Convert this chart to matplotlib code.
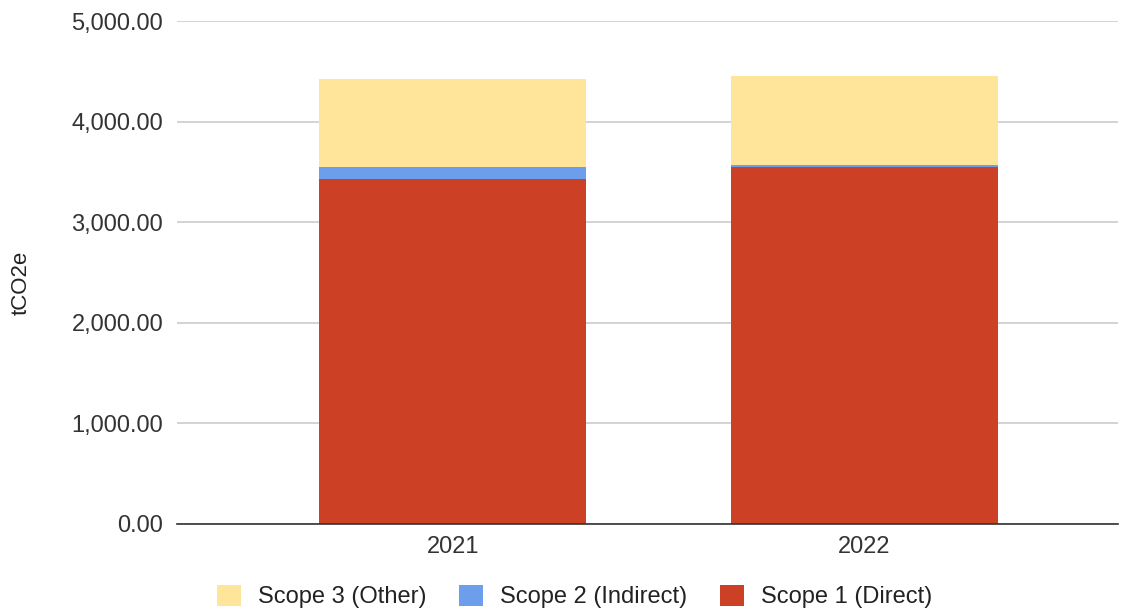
import matplotlib.pyplot as plt
from matplotlib.ticker import FuncFormatter

# Emissions by scope (tCO2e)
years = ['2021', '2022']
scope1 = [3430, 3550]
scope2 = [120, 20]
scope3 = [872, 880]

plt.rcParams['font.family'] = ['Liberation Sans', 'DejaVu Sans']

fig = plt.figure(figsize=(11.32, 6.11), dpi=100)
ax = fig.add_axes([0.1564, 0.1424, 0.8312, 0.8232])

x = range(len(years))
w = 0.648
b1 = ax.bar(x, scope1, w, color='#cc4125', label='Scope 1 (Direct)', zorder=3)
b2 = ax.bar(x, scope2, w, bottom=scope1, color='#6d9eeb', label='Scope 2 (Indirect)', zorder=3)
bottom3 = [a + b for a, b in zip(scope1, scope2)]
b3 = ax.bar(x, scope3, w, bottom=bottom3, color='#ffe599', label='Scope 3 (Other)', zorder=3)

ax.set_xlim(-0.669, 1.615)
ax.set_ylim(0, 5000)
ax.set_yticks(range(0, 5001, 1000))
ax.yaxis.set_major_formatter(FuncFormatter(lambda v, p: f'{v:,.2f}'))
ax.set_xticks(list(x))
ax.set_xticklabels(years)
ax.tick_params(axis='both', length=0, labelsize=17, colors='#333333')
ax.tick_params(axis='y', pad=10)
ax.tick_params(axis='x', pad=9)
ax.grid(axis='y', color='#cccccc', linewidth=1.2, zorder=0)
for s in ['top', 'right', 'left']:
    ax.spines[s].set_visible(False)
ax.spines['bottom'].set_color('#333333')
ax.spines['bottom'].set_linewidth(1.2)
ax.spines['bottom'].set_zorder(4)

fig.text(0.019, 0.537, 'tCO2e', rotation=90, va='center', ha='center',
         fontsize=16, color='#222222')

fig.legend(handles=[b3, b2, b1], loc='center', bbox_to_anchor=(0.5075, 0.024),
           ncol=3, frameon=False, fontsize=17, handlelength=1.0, handleheight=1.0,
           columnspacing=1.4, handletextpad=0.72, labelcolor='#222222')

fig.savefig('out.png', dpi=100)
